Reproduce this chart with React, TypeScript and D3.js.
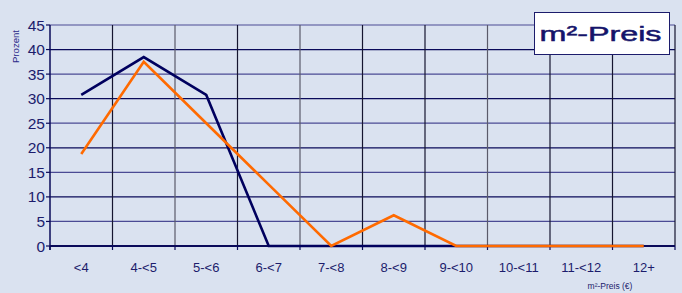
import React from "react";
import * as d3 from "d3";

const categories = ["<4", "4-<5", "5-<6", "6-<7", "7-<8", "8-<9", "9-<10", "10-<11", "11-<12", "12+"];
const navySeries = [30.77, 38.46, 30.77, 0, 0, 0, 0, 0, 0, 0];
const orangeSeries = [18.75, 37.5, 25, 12.5, 0, 6.25, 0, 0, 0, 0];
const yTicks = [0, 5, 10, 15, 20, 25, 30, 35, 40, 45];

const W = 682, H = 293;
const L = 50, R = 675, T = 25, B = 246;

export default function App() {
  const x = d3.scaleBand<string>().domain(categories).range([L, R]);
  const y = d3.scaleLinear().domain([0, 45]).range([B, T]);
  const cx = (c: string) => (x(c) as number) + x.bandwidth() / 2;
  const line = d3.line<number>().x((_, i) => cx(categories[i])).y((d) => y(d));
  const textColor = "#1c1c6c";
  const boundaries = categories.map((c) => x(c) as number).concat([R]);
  return (
    <svg width={W} height={H} style={{ position: "absolute", left: 0, top: 0 }}>
      <rect x={0} y={0} width={W} height={H} fill="#dae2f0" />
      {/* horizontal grid */}
      {yTicks.map((t) => (
        <line key={"h" + t} x1={L} x2={R} y1={y(t)} y2={y(t)}
          stroke={t % 10 === 0 ? "#0a0a5a" : "#4a4a94"} strokeWidth={1.2} />
      ))}
      {/* vertical grid */}
      {boundaries.slice(1).map((b, i) => (
        <line key={"v" + i} x1={b} x2={b} y1={T} y2={B}
          stroke={i === 1 || i === 3 || i === 6 ? "#5a5a6a" : "#151530"} strokeWidth={1.2} />
      ))}
      {/* axes */}
      <line x1={L} x2={L} y1={T} y2={B + 4} stroke="#0a0a5a" strokeWidth={1.5} />
      <line x1={L} x2={R} y1={B} y2={B} stroke="#0a0a5a" strokeWidth={1.8} />
      {boundaries.map((b, i) => (
        <line key={"xt" + i} x1={b} x2={b} y1={B} y2={B + 4} stroke="#0a0a5a" strokeWidth={1.2} />
      ))}
      {yTicks.map((t) => (
        <line key={"yt" + t} x1={L - 4} x2={L} y1={y(t)} y2={y(t)} stroke="#0a0a5a" strokeWidth={1.2} />
      ))}
      {yTicks.map((t) => (
        <text key={"yl" + t} x={L - 5} y={y(t)} dy="0.36em" textAnchor="end"
          fontFamily="Liberation Sans, Arial, sans-serif" fontSize={15.5} fill={textColor}>{t}</text>
      ))}
      {categories.map((c) => (
        <text key={"xl" + c} x={cx(c)} y={272} textAnchor="middle"
          fontFamily="Liberation Sans, Arial, sans-serif" fontSize={13} fill={textColor}>{c}</text>
      ))}
      <text transform="translate(19,46.5) rotate(-90)" textAnchor="middle"
        fontFamily="Liberation Sans, Arial, sans-serif" fontSize={9.6} fill="#2a2a8a">Prozent</text>
      <text x={610} y={289} textAnchor="middle"
        fontFamily="Liberation Sans, Arial, sans-serif" fontSize={8.5} fill={textColor}>m²-Preis (€)</text>
      {/* series */}
      <path d={line(navySeries) || ""} fill="none" stroke="#00005e" strokeWidth={2.6} strokeLinejoin="miter" />
      <path d={line(orangeSeries) || ""} fill="none" stroke="#ff6a00" strokeWidth={2.6} strokeLinejoin="miter" />
      {/* title box */}
      <rect x={534.5} y={12.5} width={135} height={42} fill="#ffffff" stroke="#1c1c6c" strokeWidth={1} />
      <text x={539.5} y={41.3} textLength={122} lengthAdjust="spacingAndGlyphs"
        fontFamily="Liberation Sans, Arial, sans-serif"
        fontSize={21} fontWeight="normal" stroke="#14146a" strokeWidth={0.5} fill="#14146a">m²-Preis</text>
    </svg>
  );
}
